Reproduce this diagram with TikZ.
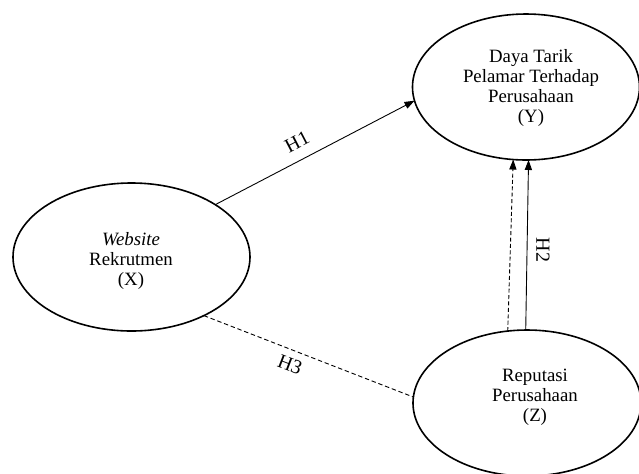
\documentclass[tikz,border=0pt]{standalone}
\usepackage{fontspec}
\setmainfont{Liberation Serif}
\usetikzlibrary{shapes.geometric,arrows.meta}
\begin{document}
\begin{tikzpicture}[x=0.5pt,y=-0.5pt,
  var/.style={ellipse,draw,line width=0.8pt,inner sep=0pt,outer sep=0pt},
  vartext/.style={align=center,inner sep=0pt,font=\fontsize{9.4}{10}\selectfont},
  path/.style={line width=0.45pt,-{Triangle[length=5pt,width=3.6pt]}},
  dpath/.style={line width=0.45pt,dash pattern=on 2.2pt off 1.4pt},
  hlab/.style={inner sep=0pt,font=\fontsize{10}{12}\selectfont}]
\useasboundingbox (0,0) rectangle (639,473);
\node[var,minimum width=118.5pt,minimum height=74pt] (X) at (131.5,257) {};
\node[var,minimum width=113.5pt,minimum height=73pt] (Y) at (526,87) {};
\node[var,minimum width=114pt,minimum height=73pt] (Z) at (527,403) {};
\node[vartext] (Xt) at (131,261) {\textit{Website}\\Rekrutmen\\(X)};
\node[vartext] (Yt) at (531,88) {Daya Tarik\\Pelamar Terhadap\\Perusahaan\\(Y)};
\node[vartext] (Zt) at (535,397) {Reputasi\\Perusahaan\\(Z)};
\draw[path] (X.32) -- (Y.187);
\draw[path] (Z.91) -- (Y.272);
\draw[path,dash pattern=on 2pt off 1.2pt] (Z.105) -- (Y.260.5);
\draw[dpath] (X.-39) -- (Z.177.5);
\node[hlab,rotate=27.5] (h1) at (297,142) {H1};
\node[hlab,rotate=-90] (h2) at (543,250) {H2};
\node[hlab,rotate=-21] (h3) at (290,365) {H3};
\end{tikzpicture}
\end{document}
